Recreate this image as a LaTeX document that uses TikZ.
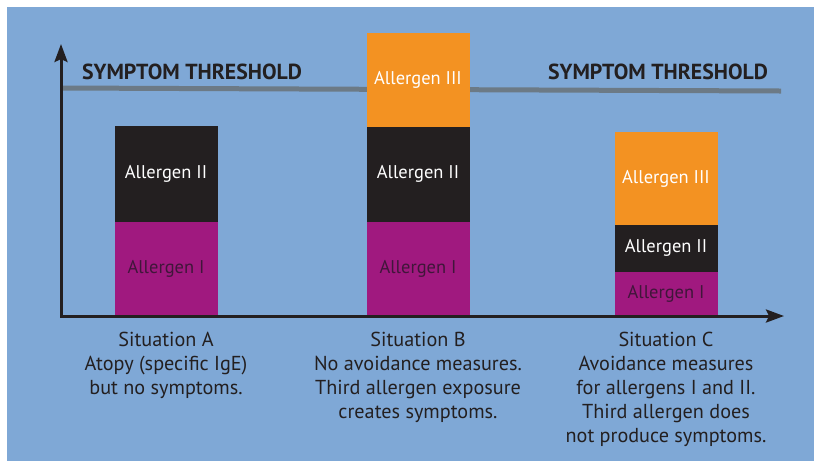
\documentclass[tikz,border=0pt]{standalone}
\usepackage{fontspec}
\setmainfont{PT Sans}
\usetikzlibrary{positioning,arrows.meta}
\definecolor{bgblue}{RGB}{127,168,214}
\definecolor{alorange}{RGB}{243,146,34}
\definecolor{alblack}{RGB}{35,31,32}
\definecolor{alpurple}{RGB}{160,25,127}
\definecolor{threshgray}{RGB}{108,122,134}
\definecolor{darktext}{RGB}{35,31,32}
\definecolor{ltext}{RGB}{64,22,58}
\tikzset{
	barnode/.style={rectangle, inner sep=0pt, minimum width=2.04cm, anchor=south, line width=0.3pt, font=\fontsize{10.5}{12.5}\selectfont},
	allergenI/.style={barnode, fill=alpurple, draw=alpurple, text=ltext},
	allergenII/.style={barnode, fill=alblack, draw=alblack, text=white},
	allergenIII/.style={barnode, fill=alorange, draw=alorange, text=white},
	threshtext/.style={font=\bfseries\fontsize{12.4}{15}\selectfont, text=darktext},
	caption/.style={align=center, anchor=north, text=darktext, font=\fontsize{11.5}{13.6}\selectfont},
	axisline/.style={draw=alblack, line width=0.06cm, {Stealth[length=0.36cm, width=0.26cm, inset=0.06cm]}-{Stealth[length=0.36cm, width=0.26cm, inset=0.06cm]}}
}

\begin{document}
\begin{tikzpicture}[x=0.02cm, y=-0.02cm]
		\useasboundingbox (0,0) rectangle (814,461);
		\fill[bgblue] (7,7) rectangle (814,461);
		
		% threshold
		\coordinate (thL) at (61,88);
		\coordinate (thR) at (781,91);
		\draw[threshgray, line width=0.1cm] (thL) -- (thR);
		\node[threshtext] at (192,72) (thA) {SYMPTOM THRESHOLD};
		\node[threshtext] at (658,72) (thC) {SYMPTOM THRESHOLD};
		
		% situation A
		\node[allergenI, minimum height=1.88cm] at (166,316) (a1) {Allergen I};
		\node[allergenII, minimum height=1.9cm, above=0pt of a1] (a2) {Allergen II};
		
		% situation B
		\node[allergenI, minimum height=1.88cm] at (418,316) (b1) {Allergen I};
		\node[allergenII, minimum height=1.88cm, above=0pt of b1] (b2) {Allergen II};
		\node[allergenIII, minimum height=1.86cm, above=0pt of b2] (b3) {Allergen III};
		
		% situation C
		\node[allergenI, minimum height=0.88cm] at (666,316) (c1) {Allergen I};
		\node[allergenII, minimum height=0.92cm, above=0pt of c1] (c2) {Allergen II};
		\node[allergenIII, minimum height=1.84cm, above=0pt of c2] (c3) {Allergen III};
		
		% axes
		\coordinate (origin) at (61,316);
		\coordinate (ytip) at (61,44);
		\coordinate (xtip) at (784,316);
		\draw[axisline] (ytip) -- (origin) -- (xtip);
		
		\node[caption] at (166,326) (capA) {Situation A\\Atopy (specific IgE)\\but no symptoms.};
		\node[caption] at (418,326) (capB) {Situation B\\No avoidance measures.\\Third allergen exposure\\creates symptoms.};
		\node[caption] at (666,326) (capC) {Situation C\\Avoidance measures\\for allergens I and II.\\Third allergen does\\not produce symptoms.};
	\end{tikzpicture}
\end{document}
